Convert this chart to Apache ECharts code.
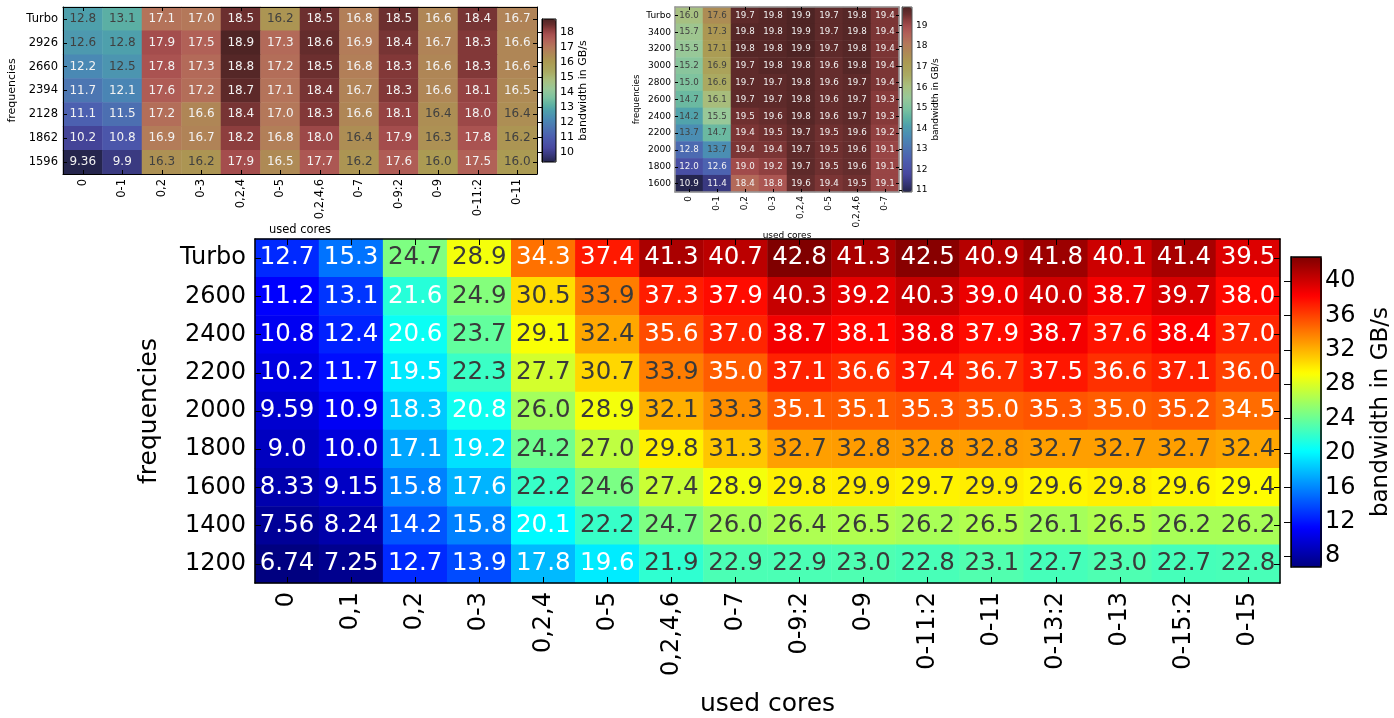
<!DOCTYPE html>
<html><head><meta charset="utf-8">
<script src="https://cdn.jsdelivr.net/npm/echarts@6/dist/echarts.min.js"></script>
<style>html,body{margin:0;padding:0;background:#fff}#c{width:1394px;height:718px}</style>
</head><body><div id="c"></div>
<script>
// ---------- data ----------
const mainCores = ['0','0,1','0,2','0-3','0,2,4','0-5','0,2,4,6','0-7','0-9:2','0-9','0-11:2','0-11','0-13:2','0-13','0-15:2','0-15'];
const mainFreqs = ['Turbo','2600','2400','2200','2000','1800','1600','1400','1200'];
const mainTurbo = [12.7,15.3,24.7,28.9,34.3,37.4,41.3,40.7,42.8,41.3,42.5,40.9,41.8,40.1,41.4,39.5];
const main2600  = [11.2,13.1,21.6,24.9,30.5,33.9,37.3,37.9,40.3,39.2,40.3,39.0,40.0,38.7,39.7,38.0];
const main2400  = [10.8,12.4,20.6,23.7,29.1,32.4,35.6,37.0,38.7,38.1,38.8,37.9,38.7,37.6,38.4,37.0];
const main2200  = [10.2,11.7,19.5,22.3,27.7,30.7,33.9,35.0,37.1,36.6,37.4,36.7,37.5,36.6,37.1,36.0];
const main2000  = [9.59,10.9,18.3,20.8,26.0,28.9,32.1,33.3,35.1,35.1,35.3,35.0,35.3,35.0,35.2,34.5];
const main1800  = [9.0,10.0,17.1,19.2,24.2,27.0,29.8,31.3,32.7,32.8,32.8,32.8,32.7,32.7,32.7,32.4];
const main1600  = [8.33,9.15,15.8,17.6,22.2,24.6,27.4,28.9,29.8,29.9,29.7,29.9,29.6,29.8,29.6,29.4];
const main1400  = [7.56,8.24,14.2,15.8,20.1,22.2,24.7,26.0,26.4,26.5,26.2,26.5,26.1,26.5,26.2,26.2];
const main1200  = [6.74,7.25,12.7,13.9,17.8,19.6,21.9,22.9,22.9,23.0,22.8,23.1,22.7,23.0,22.7,22.8];
const mainValues = [mainTurbo,main2600,main2400,main2200,main2000,main1800,main1600,main1400,main1200];
const mainTicks = [8,12,16,20,24,28,32,36,40];

const tlCores = ['0','0-1','0,2','0-3','0,2,4','0-5','0,2,4,6','0-7','0-9:2','0-9','0-11:2','0-11'];
const tlFreqs = ['Turbo','2926','2660','2394','2128','1862','1596'];
const tlTurbo = [12.8,13.1,17.1,17.0,18.5,16.2,18.5,16.8,18.5,16.6,18.4,16.7];
const tl2926  = [12.6,12.8,17.9,17.5,18.9,17.3,18.6,16.9,18.4,16.7,18.3,16.6];
const tl2660  = [12.2,12.5,17.8,17.3,18.8,17.2,18.5,16.8,18.3,16.6,18.3,16.6];
const tl2394  = [11.7,12.1,17.6,17.2,18.7,17.1,18.4,16.7,18.3,16.6,18.1,16.5];
const tl2128  = [11.1,11.5,17.2,16.6,18.4,17.0,18.3,16.6,18.1,16.4,18.0,16.4];
const tl1862  = [10.2,10.8,16.9,16.7,18.2,16.8,18.0,16.4,17.9,16.3,17.8,16.2];
const tl1596  = [9.36,9.9,16.3,16.2,17.9,16.5,17.7,16.2,17.6,16.0,17.5,16.0];
const tlValues = [tlTurbo,tl2926,tl2660,tl2394,tl2128,tl1862,tl1596];
const tlTicks = [10,11,12,13,14,15,16,17,18];

const trCores = ['0','0-1','0,2','0-3','0,2,4','0-5','0,2,4,6','0-7'];
const trFreqs = ['Turbo','3400','3200','3000','2800','2600','2400','2200','2000','1800','1600'];
const trTurbo = [16.0,17.6,19.7,19.8,19.9,19.7,19.8,19.4];
const tr3400  = [15.7,17.3,19.8,19.8,19.9,19.7,19.8,19.4];
const tr3200  = [15.5,17.1,19.8,19.8,19.9,19.7,19.8,19.4];
const tr3000  = [15.2,16.9,19.7,19.8,19.8,19.6,19.8,19.4];
const tr2800  = [15.0,16.6,19.7,19.7,19.8,19.6,19.7,19.4];
const tr2600  = [14.7,16.1,19.7,19.7,19.8,19.6,19.7,19.3];
const tr2400  = [14.2,15.5,19.5,19.6,19.8,19.6,19.7,19.3];
const tr2200  = [13.7,14.7,19.4,19.5,19.7,19.5,19.6,19.2];
const tr2000  = [12.8,13.7,19.4,19.4,19.7,19.5,19.6,19.1];
const tr1800  = [12.0,12.6,19.0,19.2,19.7,19.5,19.6,19.1];
const tr1600  = [10.9,11.4,18.4,18.8,19.6,19.4,19.5,19.1];
const trValues = [trTurbo,tr3400,tr3200,tr3000,tr2800,tr2600,tr2400,tr2200,tr2000,tr1800,tr1600];
const trTicks = [11,12,13,14,15,16,17,18,19];

// ---------- helpers ----------
const FONT = 'DejaVu Sans';
function fmt(v){ const s = String(v); return s.indexOf('.') < 0 ? s + '.0' : s; }
function range(vals){ const f = vals.flat(); return [Math.min(...f), Math.max(...f)]; }

const jet = ['#000080','#0000ff','#0080ff','#00ffff','#80ff80','#ffff00','#ff8000','#ff0000','#800000'];
const mutedStops = [[0,'#25254d'],[0.06,'#3b3b84'],[0.10,'#4848a0'],[0.18,'#4c5fb0'],[0.25,'#4c78b2'],
  [0.30,'#4a8ab4'],[0.36,'#4ea0ac'],[0.40,'#5eb2a2'],[0.45,'#7cc2a0'],[0.51,'#98c898'],[0.57,'#a8c080'],
  [0.63,'#aaaa62'],[0.70,'#ab9a52'],[0.75,'#ae8a55'],[0.80,'#b4785a'],[0.85,'#b26258'],[0.89,'#a85050'],
  [0.93,'#8a3c3c'],[0.96,'#6a2e2e'],[1.0,'#4e2424']];
function hex2rgb(h){ return [1,3,5].map(i=>parseInt(h.substr(i,2),16)); }
function buildColors(stops, n){
  const out = [];
  for (let k=0;k<n;k++){
    const t = k/(n-1);
    let i = 0; while (i < stops.length-2 && t > stops[i+1][0]) i++;
    const [t0,c0] = stops[i], [t1,c1] = stops[i+1];
    const f = (t-t0)/(t1-t0);
    const a = hex2rgb(c0), b = hex2rgb(c1);
    out.push('rgb(' + a.map((x,j)=>Math.round(x+(b[j]-x)*f)).join(',') + ')');
  }
  return out;
}
const muted = buildColors(mutedStops, 101);

function cells(values, darkFn, darkColor, lightColor){
  const d = [];
  values.forEach((row, r) => row.forEach((v, c) => {
    d.push({ value: [c, r, v], label: { color: darkFn(v) ? darkColor : lightColor } });
  }));
  return d;
}

const mainDark = v => v >= 21.7 && v < 34;
const tlDark = v => (v >= 12.4 && v <= 13.5) || (v >= 14 && v <= 16.45);
const trDark = v => v >= 13.5 && v <= 17.8;

const mainR = range(mainValues), tlR = range(tlValues), trR = range(trValues);

// ---------- axis builders ----------
function catX(grid, data, opt){
  return Object.assign({
    type:'category', gridIndex:grid, data:data, position:'bottom', z:10,
    axisLine:{show:true, onZero:false, lineStyle:{color:opt.lc, width:opt.lw}},
    axisTick:{show:true, inside:true, alignWithLabel:true, length:opt.tl, lineStyle:{color:'#000', width:1}},
    axisLabel:{show:true, rotate:90, margin:opt.lm, fontFamily:FONT, fontSize:opt.fs, color:'#000', interval:0},
    splitLine:{show:false}
  }, opt.extra || {});
}
function catY(grid, data, opt){
  return Object.assign({
    type:'category', gridIndex:grid, data:data, inverse:true, position:'left', z:10,
    axisLine:{show:true, onZero:false, lineStyle:{color:opt.lc, width:opt.lw}},
    axisTick:{show:true, inside:true, alignWithLabel:true, length:opt.tl, lineStyle:{color:'#000', width:1}},
    axisLabel:{show:true, margin:opt.lm, fontFamily:FONT, fontSize:opt.fs, color:'#000', interval:0},
    splitLine:{show:false}
  }, opt.extra || {});
}

const M = {lc:'#000', lw:1.5, tl:6, lm:9, fs:24};
const TL = {lc:'#000', lw:1, tl:4, lm:5, fs:11.5};
const TR = {lc:'#999', lw:1.5, tl:3, lm:4, fs:9};

function mirror(o){ return Object.assign({}, o, {axisLabel:{show:false}, name:''}); }

const grids = [
  {left:255, top:239, width:1025, height:346},   // 0 main
  {left:63,  top:7,   width:474,  height:167},   // 1 top-left
  {left:675, top:7,   width:224,  height:185},   // 2 top-right
  {left:1291, top:257, width:31, height:310, show:true, borderColor:'#000', borderWidth:1.5, backgroundColor:'transparent', z:10}, // 3 main cbar
  {left:542, top:19, width:14, height:143, show:true, borderColor:'#000', borderWidth:1, backgroundColor:'transparent', z:10},    // 4 tl cbar
  {left:902, top:7, width:10, height:185, show:true, borderColor:'#555', borderWidth:1, backgroundColor:'transparent', z:10}      // 5 tr cbar
];

const xAxes = [
  catX(0, mainCores, Object.assign({}, M, {extra:{name:'used cores', nameLocation:'middle', nameGap:109,
      nameTextStyle:{fontFamily:FONT, fontSize:25, color:'#000'}}})),
  catX(1, tlCores, Object.assign({}, TL, {extra:{name:'used cores', nameLocation:'middle', nameGap:50,
      nameTextStyle:{fontFamily:FONT, fontSize:11.5, color:'#000'}}})),
  catX(2, trCores, Object.assign({}, TR, {extra:{name:'used cores', nameLocation:'middle', nameGap:38,
      nameTextStyle:{fontFamily:FONT, fontSize:9, color:'#000'}}})),
];
xAxes.push(Object.assign(mirror(catX(0, mainCores, M)), {position:'top'}));
xAxes.push(Object.assign(mirror(catX(1, tlCores, TL)), {position:'top'}));
xAxes.push(Object.assign(mirror(catX(2, trCores, TR)), {position:'top'}));
[3,4,5].forEach(g => xAxes.push({type:'value', gridIndex:g, show:false, min:0, max:1}));

const yAxes = [
  catY(0, mainFreqs, Object.assign({}, M, {extra:{name:'frequencies', nameLocation:'middle', nameGap:93, nameRotate:90,
      nameTextStyle:{fontFamily:FONT, fontSize:25, color:'#000'}}})),
  catY(1, tlFreqs, Object.assign({}, TL, {extra:{name:'frequencies', nameLocation:'middle', nameGap:45, nameRotate:90,
      nameTextStyle:{fontFamily:FONT, fontSize:11, color:'#000'}}})),
  catY(2, trFreqs, Object.assign({}, TR, {extra:{name:'frequencies', nameLocation:'middle', nameGap:34, nameRotate:90,
      nameTextStyle:{fontFamily:FONT, fontSize:8.5, color:'#000'}}})),
];
yAxes.push(Object.assign(mirror(catY(0, mainFreqs, M)), {position:'right'}));
yAxes.push(Object.assign(mirror(catY(1, tlFreqs, TL)), {position:'right'}));
yAxes.push(Object.assign(mirror(catY(2, trFreqs, TR)), {position:'right'}));

function cbarAxis(g, r, ticks, fs, tl, gap, nfs, lc){
  return {
    type:'value', gridIndex:g, position:'right', min:r[0], max:r[1], z:11,
    axisLine:{show:true, lineStyle:{color:lc, width:1}},
    axisTick:{show:true, inside:true, length:tl, customValues:ticks, lineStyle:{color:'#000'}},
    axisLabel:{show:true, customValues:ticks, margin:4, fontFamily:FONT, fontSize:fs, color:'#000'},
    splitLine:{show:false},
    name:'bandwidth in GB/s', nameLocation:'middle', nameRotate:90, nameGap:gap,
    nameTextStyle:{fontFamily:FONT, fontSize:nfs, color:'#000'}
  };
}
yAxes.push(cbarAxis(3, mainR, mainTicks, 24, 7, 49, 23, '#000'));
yAxes.push(cbarAxis(4, tlR, tlTicks, 11, 4, 22, 11, '#000'));
yAxes.push(cbarAxis(5, trR, trTicks, 9, 3, 18, 9, '#555'));

function hm(xi, yi, data, fs){
  return {
    type:'heatmap', xAxisIndex:xi, yAxisIndex:yi, data:data,
    label:{show:true, fontFamily:FONT, fontSize:fs, formatter: p => fmt(p.value[2])},
    emphasis:{disabled:true}, itemStyle:{borderWidth:0}
  };
}

const series = [
  hm(0, 0, cells(mainValues, mainDark, '#3a3a3a', '#ffffff'), 24.5),
  hm(1, 1, cells(tlValues, tlDark, '#404040', '#f2f2f2'), 12),
  hm(2, 2, cells(trValues, trDark, '#404040', '#f2f2f2'), 8.7)
];

function vm(si, r, colors, left, top, w, h){
  return {type:'continuous', seriesIndex:si, min:r[0], max:r[1], inRange:{color:colors},
    calculable:false, left:left, top:top, itemWidth:w, itemHeight:h, text:null, padding:0,
    hoverLink:false, realtime:false, showLabel:false};
}

const option = {
  backgroundColor:'#fff',
  animation:false,
  grid: grids,
  xAxis: xAxes,
  yAxis: yAxes,
  visualMap: [
    vm(0, mainR, jet, 1291, 257, 31, 310),
    vm(1, tlR, muted, 542, 19, 14, 143),
    vm(2, trR, muted, 902, 7, 10, 185)
  ],
  series: series
};

const chart = echarts.init(document.getElementById('c'), null, {renderer:'canvas'});
chart.setOption(option);
</script></body></html>
